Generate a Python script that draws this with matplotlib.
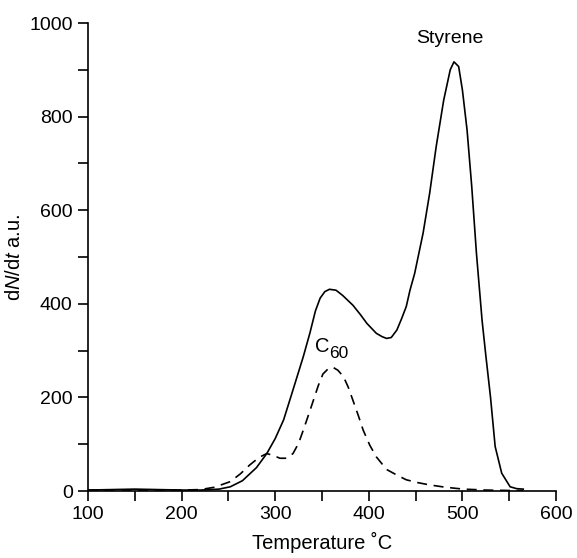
import matplotlib
matplotlib.use("Agg")
import matplotlib.pyplot as plt
import numpy as np

plt.rcParams['font.family'] = ['Liberation Sans', 'DejaVu Sans']
plt.rcParams['mathtext.fontset'] = 'custom'
plt.rcParams['mathtext.rm'] = 'Liberation Sans'
plt.rcParams['mathtext.it'] = 'Liberation Sans:italic'

# Styrene (solid)
styrene_T = [100, 125, 150, 175, 200, 220, 240, 252, 265, 280, 291, 300, 309, 319, 330,
             337, 343, 348, 353, 358, 365, 372, 383, 391, 398, 408, 414, 419, 424, 430, 435,
             440, 444, 449, 458, 465, 472, 480, 487, 491, 496, 500, 505, 510, 515, 521,
             525, 530, 535, 542, 551, 558, 565]
styrene_v = [2, 3, 4, 3, 2, 2, 4, 9, 22, 50, 80, 112, 152, 216, 287,
             337, 385, 412, 426, 431, 429, 418, 397, 377, 358, 337, 330, 326, 328, 344, 368,
             394, 429, 465, 551, 636, 736, 835, 900, 917, 907, 857, 771, 650, 508, 365,
             290, 201, 95, 38, 9, 5, 4]

# C60 (dashed)
c60_T = [100, 150, 200, 220, 235, 252, 263, 273, 283, 291, 298, 305, 312, 319, 325,
         330, 336, 341, 346, 351, 357, 362, 367, 373, 378, 383, 389, 394, 401, 408,
         419, 430, 440, 452, 465, 482, 501, 525, 553, 565]
c60_v = [2, 2, 2, 3, 8, 20, 37, 56, 72, 80, 76, 70, 70, 80, 102,
         130, 165, 195, 225, 250, 262, 264, 258, 244, 222, 194, 160, 130, 98, 73,
         46, 34, 24, 18, 13, 8, 4, 2, 1, 1]

x_ticks = [100, 200, 300, 400, 500, 600]
y_ticks = [0, 200, 400, 600, 800, 1000]

fig = plt.figure(figsize=(5.77, 5.58), dpi=100)
ax = fig.add_axes([88/577, (558-491)/558, 468/577, 468/558])

ax.plot(styrene_T, styrene_v, color='black', lw=1.2, solid_joinstyle='round')
ax.plot(c60_T, c60_v, color='black', lw=1.2, linestyle=(0, (6, 4)))

ax.text(486.5, 967, 'Styrene', ha='center', va='center', fontsize=14)
ax.text(358.5, 308, 'C', ha='right', va='center', fontsize=14.5)
ax.text(358.0, 294, '60', ha='left', va='center', fontsize=12.5)

ax.set_xlim(100, 600)
ax.set_ylim(0, 1000)
ax.spines['top'].set_visible(False)
ax.spines['right'].set_visible(False)
for s in ['left', 'bottom']:
    ax.spines[s].set_linewidth(1.2)

ax.set_xticks(x_ticks)
ax.set_xticks(np.arange(150, 600, 100), minor=True)
ax.set_yticks(y_ticks)
ax.set_yticks(np.arange(100, 1000, 200), minor=True)
ax.tick_params(axis='both', which='both', direction='out', length=7, width=1.2,
               labelsize=14, pad=4)

ax.set_xlabel('Temperature \u02daC', fontsize=14.5, labelpad=6)
ax.set_ylabel(r'd$N$/d$t$ a.u.', fontsize=14.5, labelpad=4)

fig.savefig('out.png', dpi=100)
